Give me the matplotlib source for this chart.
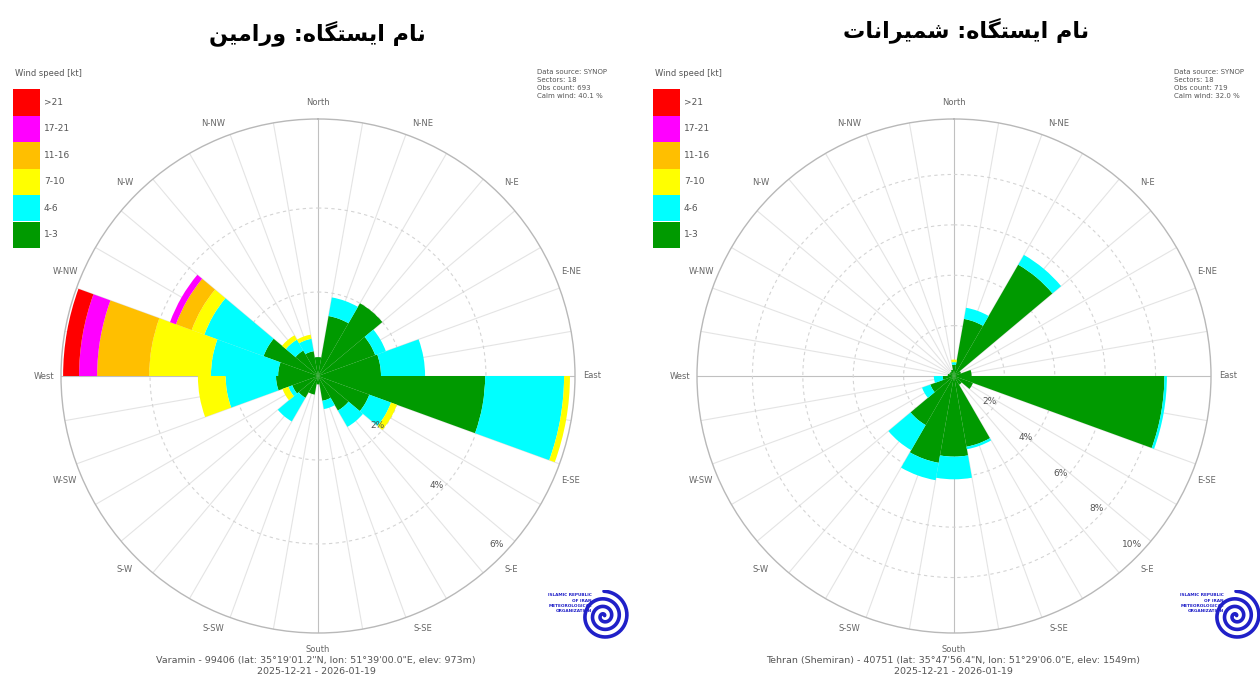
import numpy as np
import matplotlib.pyplot as plt
from matplotlib.patches import Rectangle

W, H = 1260, 679

# wind speed classes (kt), lowest first, and their colours
speed_classes = ['1-3', '4-6', '7-10', '11-16', '17-21', '>21']
class_colors = ['#009a00', '#00ffff', '#ffff00', '#ffbf00', '#ff00ff', '#ff0000']

# 18 sectors of 20 degrees, given by their centre bearing
sectors = np.arange(0, 360, 20)
compass_names = ['North', 'N-NE', 'N-E', 'E-NE', 'East', 'E-SE', 'S-E', 'S-SE',
                 'South', 'S-SW', 'S-W', 'W-SW', 'West', 'W-NW', 'N-W', 'N-NW']

# Varamin: frequency (%) per sector for each speed class
var_1_3 = [0.45, 1.45, 2.0, 1.45, 1.5, 3.98, 1.3, 0.95, 0.6, 0.2, 0.45, 0.6, 0.65, 1.0, 0.95, 1.38, 0.7, 0.6]
var_4_6 = [0, 0.45, 0, 0.27, 1.05, 1.88, 0.55, 0.45, 0.2, 0, 0, 0.65, 0.1, 1.2, 1.6, 1.5, 0.3, 0.3]
var_7_10 = [0, 0, 0, 0, 0, 0.14, 0.15, 0, 0, 0, 0, 0, 0.15, 0.66, 1.47, 0.32, 0.12, 0.1]
var_11_16 = [0, 0, 0, 0, 0, 0, 0, 0, 0, 0, 0, 0, 0, 0, 1.24, 0.4, 0, 0]
var_17_21 = [0, 0, 0, 0, 0, 0, 0, 0, 0, 0, 0, 0, 0, 0, 0.43, 0.15, 0, 0]
var_21 = [0, 0, 0, 0, 0, 0, 0, 0, 0, 0, 0, 0, 0, 0, 0.38, 0, 0, 0]

# Tehran (Shemiran)
shm_1_3 = [0.45, 2.3, 5.1, 0.3, 0.7, 8.35, 0.8, 0.4, 2.85, 3.2, 3.5, 2.25, 1.0, 0.45, 0.25, 0.2, 0.2, 0.25]
shm_4_6 = [0.1, 0.45, 0.45, 0, 0, 0.1, 0, 0, 0.1, 0.9, 0.7, 1.15, 0.35, 0.35, 0, 0, 0, 0]
shm_7_10 = [0.1, 0, 0, 0, 0, 0, 0, 0, 0, 0, 0, 0, 0, 0, 0, 0, 0, 0]
shm_11_16 = [0] * 18
shm_17_21 = [0] * 18
shm_21 = [0] * 18

# Persian letter forms: isolated, final, initial, medial
FA_FORMS = {
    'ا': ('\uFE8D', '\uFE8E'),
    'و': ('\uFEED', '\uFEEE'),
    'ر': ('\uFEAD', '\uFEAE'),
    'ن': ('\uFEE5', '\uFEE6', '\uFEE7', '\uFEE8'),
    'م': ('\uFEE1', '\uFEE2', '\uFEE3', '\uFEE4'),
    'ی': ('\uFBFC', '\uFBFD', '\uFBFE', '\uFBFF'),
    'س': ('\uFEB1', '\uFEB2', '\uFEB3', '\uFEB4'),
    'ش': ('\uFEB5', '\uFEB6', '\uFEB7', '\uFEB8'),
    'ت': ('\uFE95', '\uFE96', '\uFE97', '\uFE98'),
    'گ': ('\uFB92', '\uFB93', '\uFB94', '\uFB95'),
    'ه': ('\uFEE9', '\uFEEA', '\uFEEB', '\uFEEC'),
}


def shape_fa(text):
    # join letters and put them in visual (left to right) order
    out = []
    for i, ch in enumerate(text):
        forms = FA_FORMS.get(ch)
        if forms is None:
            out.append(ch)
            continue
        prev = text[i - 1] if i > 0 else ''
        nxt = text[i + 1] if i + 1 < len(text) else ''
        join_prev = prev in FA_FORMS and len(FA_FORMS[prev]) == 4
        join_next = len(forms) == 4 and nxt in FA_FORMS
        if join_prev and join_next:
            out.append(forms[3])
        elif join_prev:
            out.append(forms[1])
        elif join_next:
            out.append(forms[2])
        else:
            out.append(forms[0])
    return ''.join(reversed(out))


fig = plt.figure(figsize=(W / 100, H / 100), dpi=100)


def draw_rose(cx, cy, layers, rmax, rings):
    R = 257
    ax = fig.add_axes([(cx - R) / W, 1 - (cy + R) / H, 2 * R / W, 2 * R / H], projection='polar')
    ax.set_theta_zero_location('N')
    ax.set_theta_direction(-1)
    ax.set_ylim(0, rmax)
    ax.set_xticks([])
    ax.set_yticks([])
    ax.grid(False)
    ax.spines['polar'].set_color('#b8b8b8')
    ax.spines['polar'].set_linewidth(1.0)

    # radial lines every 10 degrees, main axes a bit darker
    for deg in range(0, 360, 10):
        c = '#c0c0c0' if deg % 90 == 0 else '#e4e4e4'
        ax.plot([np.deg2rad(deg)] * 2, [0, rmax], color=c, lw=0.8, zorder=1)
    th = np.linspace(0, 2 * np.pi, 361)
    for p in rings:
        if p < 0.97 * rmax:
            ax.plot(th, np.full_like(th, p), color='#d4d4d4', lw=0.8, ls=(0, (3, 3)), zorder=1)

    theta = np.deg2rad(sectors)
    bottom = np.zeros(len(sectors))
    for vals, col in zip(layers, class_colors):
        vals = np.array(vals, dtype=float)
        ax.bar(theta, vals, width=np.deg2rad(20), bottom=bottom, color=col,
               edgecolor='none', linewidth=0, zorder=2)
        bottom += vals

    for p in rings:
        ax.annotate(f'{p}%', xy=(np.deg2rad(135), p), xytext=(0, 7), textcoords='offset points',
                    ha='center', va='center', fontsize=6.5, color='#555555', zorder=5)
    for name, deg in zip(compass_names, np.arange(0, 360, 22.5)):
        ax.text(np.deg2rad(deg), rmax * 1.065, name, ha='center', va='center',
                fontsize=6, color='#666666', clip_on=False)
    return ax


def draw_legend(x0):
    fig.text((x0 + 2) / W, 1 - 74 / H, 'Wind speed [kt]', fontsize=6, color='#555555', va='center')
    h = 26.5
    for i, (lab, col) in enumerate(zip(speed_classes[::-1], class_colors[::-1])):
        y_top = 89 + i * h
        fig.add_artist(Rectangle((x0 / W, 1 - (y_top + h) / H), 27 / W, h / H,
                                 transform=fig.transFigure, facecolor=col, linewidth=0))
        fig.text((x0 + 31) / W, 1 - (y_top + h / 2) / H, lab, fontsize=6.5, color='#555555', va='center')


def draw_info(x0, count, calm):
    lines = ['Data source: SYNOP', 'Sectors: 18', f'Obs count: {count}', f'Calm wind: {calm} %']
    for i, s in enumerate(lines):
        fig.text(x0 / W, 1 - (72 + i * 8) / H, s, fontsize=5, color='#555555', va='center')


def draw_logo(cx, cy):
    lax = fig.add_axes([(cx - 26) / W, 1 - (cy + 26) / H, 52 / W, 52 / H])
    t = np.linspace(0.6, 6.5 * np.pi, 500)
    r = t / (6.5 * np.pi)
    lax.plot(r * np.cos(t), r * np.sin(t), color='#2020c8', lw=2.6, solid_capstyle='round')
    lax.set_xlim(-1.05, 1.05)
    lax.set_ylim(-1.05, 1.05)
    lax.axis('off')
    for i, s in enumerate(['ISLAMIC REPUBLIC', 'OF IRAN', 'METEOROLOGICAL', 'ORGANIZATION']):
        fig.text((cx - 12) / W, 1 - (cy - 21 + i * 5.5) / H, s, fontsize=3.1, color='#2020c8',
                 ha='right', va='center', fontweight='bold')


# Varamin
draw_rose(318, 376, [var_1_3, var_4_6, var_7_10, var_11_16, var_17_21, var_21], 6.12, [2, 4, 6])
draw_legend(13)
draw_info(537, 693, '40.1')
draw_logo(604, 616)
fig.text(317 / W, 1 - 33 / H, shape_fa('نام ایستگاه: ورامین'), ha='center', va='center',
         fontsize=16, fontweight='bold', family='DejaVu Sans')
fig.text(316 / W, 1 - 660 / H, 'Varamin - 99406 (lat: 35°19\'01.2"N, lon: 51°39\'00.0"E, elev: 973m)',
         ha='center', va='center', fontsize=6.8, color='#555555')
fig.text(316 / W, 1 - 672 / H, '2025-12-21 - 2026-01-19', ha='center', va='center',
         fontsize=6.8, color='#555555')

# Tehran (Shemiran)
draw_rose(954, 376, [shm_1_3, shm_4_6, shm_7_10, shm_11_16, shm_17_21, shm_21], 10.2, [2, 4, 6, 8, 10])
draw_legend(653)
draw_info(1174, 719, '32.0')
draw_logo(1236, 616)
fig.text(966 / W, 1 - 30 / H, shape_fa('نام ایستگاه: شمیرانات'), ha='center', va='center',
         fontsize=16, fontweight='bold', family='DejaVu Sans')
fig.text(953 / W, 1 - 660 / H, 'Tehran (Shemiran) - 40751 (lat: 35°47\'56.4"N, lon: 51°29\'06.0"E, elev: 1549m)',
         ha='center', va='center', fontsize=6.8, color='#555555')
fig.text(953 / W, 1 - 672 / H, '2025-12-21 - 2026-01-19', ha='center', va='center',
         fontsize=6.8, color='#555555')

fig.savefig('out.png', dpi=100)
